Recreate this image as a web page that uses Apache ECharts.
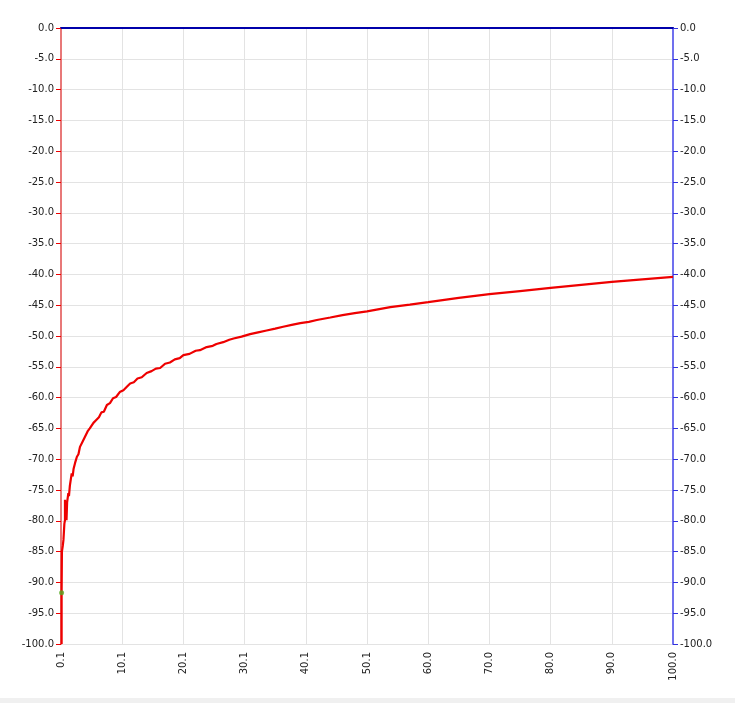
<!DOCTYPE html>
<html>
<head>
<meta charset="utf-8">
<script src="https://cdn.jsdelivr.net/npm/echarts@6/dist/echarts.min.js"></script>
<style>
html,body{margin:0;padding:0;background:#fff;}
#c{width:735px;height:703px;}
</style>
</head>
<body>
<div id="c"></div>
<script>
// x tick labels (shown at 0,10,...,100)
var xTickLabels = ['0.1','10.1','20.1','30.1','40.1','50.1','60.0','70.0','80.0','90.0','100.0'];
// curve x values
var curveX = [0.1,0.1,0.15,0.3,0.4,0.55,0.65,0.65,0.75,0.8,0.9,1.0,1.2,1.3,1.45,1.6,1.75,1.9,2.05,2.3,2.45,2.6,2.85,3.1,3.35,3.6,3.9,4.2,4.4,4.7,5.0,5.3,5.8,6.2,6.6,7.0,7.5,8.0,8.5,9.0,9.6,10.2,10.8,11.3,11.9,12.5,13.2,14.0,14.8,15.5,16.2,17.0,17.8,18.6,19.4,20.0,21.0,22.0,22.7,23.8,24.8,25.4,26.5,27.5,28.2,29.5,30.9,32.2,33.6,35.0,36.3,37.7,39.1,40.5,41.8,44.0,46.0,48.0,50.0,53.8,57.0,60.0,65.0,70.0,75.0,80.0,85.0,90.0,95.0,100.0];
// curve y values
var curveY = [-100,-91.7,-85.0,-84.0,-83.1,-80.5,-79.9,-76.6,-78.2,-76.9,-79.9,-77.0,-75.5,-76.0,-74.3,-74.5,-72.3,-72.8,-71.6,-70.6,-70.9,-69.6,-69.2,-68.0,-68.2,-67.0,-66.4,-66.2,-65.4,-65.0,-64.8,-64.1,-63.6,-63.2,-62.4,-62.3,-61.2,-60.9,-60.1,-59.9,-59.1,-58.8,-58.2,-57.7,-57.5,-56.9,-56.7,-56.0,-55.7,-55.3,-55.2,-54.5,-54.3,-53.8,-53.6,-53.1,-52.9,-52.4,-52.3,-51.8,-51.6,-51.3,-51.0,-50.6,-50.4,-50.1,-49.7,-49.4,-49.1,-48.8,-48.5,-48.2,-47.9,-47.7,-47.4,-47.0,-46.6,-46.3,-46.0,-45.3,-44.9,-44.5,-43.8,-43.2,-42.7,-42.2,-41.7,-41.2,-40.8,-40.4];
// marker point
var markerX = [0.1];
var markerY = [-91.7];

var curve = curveX.map(function(x,i){return [x, curveY[i]];});
var marker = markerX.map(function(x,i){return [x, markerY[i]];});

var font = 'DejaVu Sans';
var txt = '#222';
var chart = echarts.init(document.getElementById('c'), null, {renderer:'canvas'});
chart.setOption({
  animation:false,
  backgroundColor:'#ffffff',
  grid:{left:61,right:62,top:28,bottom:59,containLabel:false},
  graphic:[{type:'rect',left:0,bottom:0,shape:{width:735,height:5},style:{fill:'#f0f0f0'},silent:true}],
  xAxis:[{
    type:'value',min:0,max:100,interval:10,position:'bottom',
    axisLine:{show:false},axisTick:{show:false},
    splitLine:{show:true,lineStyle:{color:'#e3e3e3',width:1}},
    axisLabel:{rotate:90,margin:8,fontFamily:font,fontSize:10,color:txt,
      formatter:function(v){return xTickLabels[Math.round(v/10)];}}
  },{
    type:'value',min:0,max:100,interval:10,position:'top',
    axisLine:{show:true,onZero:false,lineStyle:{color:'#0000aa',width:2}},
    axisTick:{show:false},axisLabel:{show:false},splitLine:{show:false}
  }],
  yAxis:[{
    type:'value',min:-100,max:0,interval:5,position:'left',
    axisLine:{show:true,onZero:false,lineStyle:{color:'#e87878',width:2}},
    axisTick:{show:true,length:5,lineStyle:{color:'#ee0000'}},
    splitLine:{show:true,lineStyle:{color:'#e3e3e3',width:1}},
    axisLabel:{margin:7,fontFamily:font,fontSize:10,color:txt,formatter:function(v){return v.toFixed(1);}}
  },{
    type:'value',min:-100,max:0,interval:5,position:'right',
    axisLine:{show:true,onZero:false,lineStyle:{color:'#7070ee',width:2}},
    axisTick:{show:true,length:5,lineStyle:{color:'#3030dd'}},
    splitLine:{show:false},
    axisLabel:{margin:7,fontFamily:font,fontSize:10,color:txt,formatter:function(v){return v.toFixed(1);}}
  }],
  series:[{
    type:'line',data:curve,xAxisIndex:0,yAxisIndex:0,showSymbol:false,symbol:'none',
    lineStyle:{color:'#ee0000',width:2.2},z:3
  },{
    type:'scatter',data:marker,xAxisIndex:0,yAxisIndex:0,symbolSize:5,
    itemStyle:{color:'#55aa22'},z:10
  }]
});
</script>
</body>
</html>
